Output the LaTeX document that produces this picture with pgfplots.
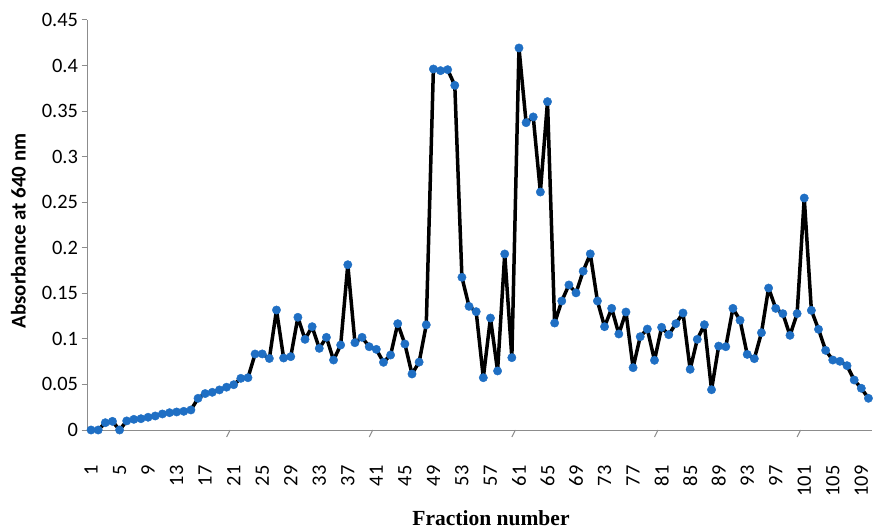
\documentclass[border=0pt]{standalone}
\usepackage{fontspec}
\setmainfont{Carlito}
\newfontfamily\titleserif{Liberation Serif}
\usepackage{pgfplots}
\usepackage{pgfplotstable}
\pgfplotsset{compat=1.18}
\definecolor{markblue}{HTML}{1F6FC4}
\definecolor{axisgray}{HTML}{8C8C8C}

% absorbance of each collected fraction
\pgfplotstableread{
frac abs
1 0
2 0
3 0.008
4 0.0095
5 0
6 0.010
7 0.0117
8 0.0124
9 0.014
10 0.0154
11 0.0176
12 0.019
13 0.0198
14 0.0205
15 0.022
16 0.0348
17 0.040
18 0.0414
19 0.044
20 0.047
21 0.0497
22 0.0567
23 0.0574
24 0.0834
25 0.0835
26 0.0785
27 0.1317
28 0.079
29 0.0805
30 0.1237
31 0.0995
32 0.1134
33 0.0896
34 0.1017
35 0.0768
36 0.0933
37 0.1814
38 0.0958
39 0.1017
40 0.0914
41 0.0885
42 0.0743
43 0.0823
44 0.1167
45 0.0944
46 0.0615
47 0.0745
48 0.1154
49 0.3962
50 0.3944
51 0.3955
52 0.3783
53 0.1676
54 0.1357
55 0.1299
56 0.0574
57 0.1229
58 0.0648
59 0.1932
60 0.0794
61 0.4193
62 0.3373
63 0.3436
64 0.2612
65 0.3604
66 0.1174
67 0.1416
68 0.1592
69 0.1505
70 0.1743
71 0.1933
72 0.1416
73 0.1134
74 0.1335
75 0.1054
76 0.1295
77 0.0684
78 0.1024
79 0.1108
80 0.0765
81 0.1127
82 0.1046
83 0.1167
84 0.1284
85 0.0666
86 0.0995
87 0.1156
88 0.0442
89 0.0921
90 0.0914
91 0.1335
92 0.1204
93 0.0830
94 0.0783
95 0.1068
96 0.1558
97 0.1335
98 0.1277
99 0.1039
100 0.1277
101 0.2546
102 0.1313
103 0.1105
104 0.0874
105 0.0768
106 0.0754
107 0.0706
108 0.0549
109 0.0458
110 0.0348
}\fractions

\begin{document}
\begin{tikzpicture}
\path[use as bounding box] (-87.5bp,-99bp) rectangle (787.5bp,430bp);
\begin{axis}[
  at={(0,0)}, anchor=south west,
  scale only axis, width=784.5bp, height=410bp,
  xmin=0.5, xmax=110.5, ymin=0, ymax=0.45,
  clip=false,
  axis x line=bottom, axis y line=left,
  axis line style={-, draw=axisgray, line width=1bp},
  tick align=outside,
  major tick length=6bp,
  ytick={0,0.05,0.1,0.15,0.2,0.25,0.3,0.35,0.4,0.45},
  yticklabels={0,0.05,0.1,0.15,0.2,0.25,0.3,0.35,0.4,0.45},
  ytick style={draw=axisgray, line width=1bp},
  xtick={1,5,...,109},
  xtick style={draw=none},
  /pgf/number format/assume math mode=true,
  tick label style={font=\fontsize{20.5}{20.5}\selectfont, text=black},
  xticklabel style={yshift=-26bp, rotate=90, anchor=east},
  xlabel={\titleserif\bfseries Fraction number},
  xlabel style={font=\fontsize{21.6}{22}\selectfont, at={(axis description cs:0.5143,-0.2146)}, anchor=center},
  ylabel={\bfseries Absorbance at 640 nm},
  ylabel style={font=\fontsize{21}{21}\selectfont, at={(axis description cs:-0.088,0.4854)}, anchor=center},
]
\addplot[black, line width=3.5bp, line join=round, mark=*, mark size=4.2bp,
  mark options={fill=markblue, draw=markblue, line width=0.4bp}]
  table[x=frac, y=abs] {\fractions};
\pgfplotsinvokeforeach{20.5,40.5,60.5,80.5,100.5}{
  \draw[axisgray, line width=1bp] (axis cs:#1,0) -- ++(0,-7bp);
}
\end{axis}
\end{tikzpicture}
\end{document}
